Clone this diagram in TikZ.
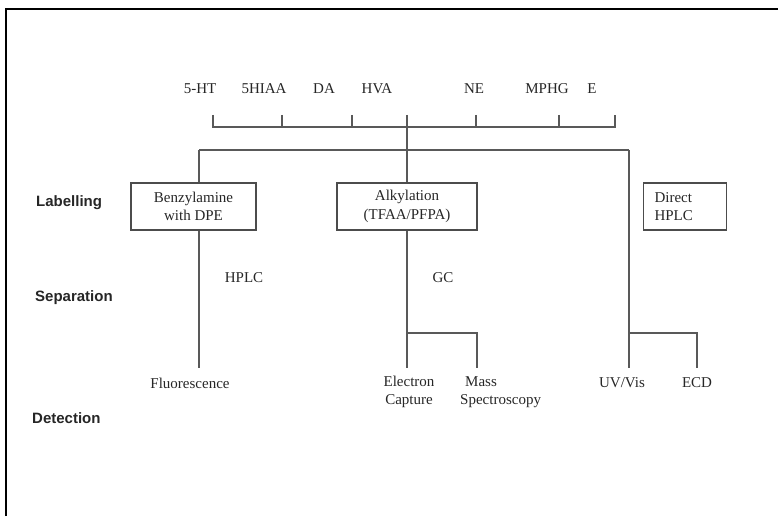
\documentclass[tikz,border=0pt]{standalone}
\usepackage{fontspec}
\setmainfont{Liberation Serif}
\newfontfamily\lblfont{Liberation Sans}
\begin{document}
\begin{tikzpicture}[x=1pt,y=-1pt,
 txt/.style={font=\fontsize{15}{18.5}\selectfont, inner sep=0pt, align=center, text=black!85},
 lbl/.style={font=\lblfont\bfseries\fontsize{15}{18}\selectfont, inner sep=0pt, anchor=west, text=black!85},
 box/.style={txt, draw=black!70, line width=1.1pt, minimum height=47pt},
 ln/.style={draw=black!65, line width=1.2pt},
 framel/.style={draw=black, line width=2pt}]
\useasboundingbox (0,0) rectangle (778,516);
% frame
\coordinate (fbl) at (6,516);
\coordinate (ftl) at (6,9);
\coordinate (ftr) at (778,9);
\draw[framel] (fbl) -- (ftl) -- (ftr);
% compounds
\node[txt] (c1) at (200,89) {5-HT};
\node[txt] (c2) at (264,89) {5HIAA};
\node[txt] (c3) at (324,89) {DA};
\node[txt] (c4) at (377,89) {HVA};
\node[txt] (c5) at (474,89) {NE};
\node[txt] (c6) at (547,89) {MPHG};
\node[txt] (c7) at (592,89) {E};
% bracket
\coordinate (t1) at (213,115); \coordinate (t2) at (282,115); \coordinate (t3) at (352,115);
\coordinate (t4) at (407,115); \coordinate (t5) at (476,115); \coordinate (t6) at (559,115);
\coordinate (t7) at (615,115);
\coordinate (bl) at (213,127); \coordinate (br) at (615,127);
\draw[ln] (t1) -- (bl) -- (br) -- (t7);
\foreach \i in {2,3,5,6} \draw[ln] (t\i) -- (t\i |- bl);
% row labels
\node[lbl] (lab) at (36,203) {Labelling};
\node[lbl] (sep) at (35,298) {Separation};
\node[lbl] (det) at (32,418) {Detection};
% boxes
\node[box, minimum width=125pt] (benz) at (193.5,206.5) {Benzylamine\\with DPE};
\node[box, minimum width=140pt] (alk) at (407,206.5) {Alkylation\\(TFAA/PFPA)};
\node[box, anchor=west, align=left, text width=61pt, inner xsep=11pt] (dir) at (643,206.5) {Direct\\HPLC};
% distribution line
\coordinate (hl) at (199,150); \coordinate (hr) at (629,150);
\draw[ln] (t4) -- (alk.north);
\draw[ln] (hl) -- (hr);
\draw[ln] (hl) -- (hl |- benz.north);
% separation labels
\node[txt] (hplc) at (244,278) {HPLC};
\node[txt] (gc) at (443,278) {GC};
% detection
\node[txt] (fl) at (190,383) {Fluorescence};
\node[txt] (ec) at (409,392) {Electron\\Capture};
\node[txt, anchor=west, align=left] (ms) at (460,392) {\hspace{5pt}Mass\\Spectroscopy};
\node[txt] (uv) at (622,383) {UV/Vis};
\node[txt] (ecd) at (697,383) {ECD};
\coordinate (fle) at (199,368);
\draw[ln] (hl |- benz.south) -- (fle);
\coordinate (ab) at (407,333); \coordinate (abr) at (477,333);
\coordinate (ece) at (407,368); \coordinate (mse) at (477,368);
\draw[ln] (alk.south) -- (ece);
\draw[ln] (ab) -- (abr) -- (mse);
\coordinate (rb) at (629,333); \coordinate (rbr) at (697,333);
\coordinate (uve) at (629,368); \coordinate (ecde) at (697,368);
\draw[ln] (hr) -- (uve);
\draw[ln] (rb) -- (rbr) -- (ecde);
\end{tikzpicture}
\end{document}
